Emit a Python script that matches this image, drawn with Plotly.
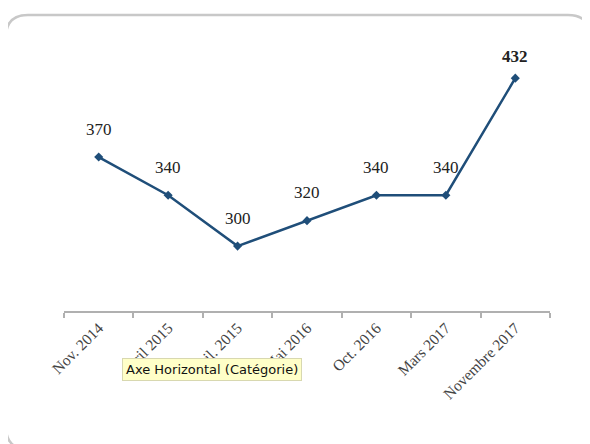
import plotly.graph_objects as go

categories = ["Nov. 2014", "Avril 2015", "Juil. 2015", "Mai 2016", "Oct. 2016", "Mars 2017", "Novembre 2017"]
values = [370, 340, 300, 320, 340, 340, 432]
value_labels = ["370", "340", "300", "320", "340", "340", "<b>432</b>"]

W, H = 590, 444
OFF = 8  # page body margin
ML, MR, MT, MB = 64 - OFF, 40 + OFF, 40 - OFF, 133 + OFF
PW, PH = W - ML - MR, H - MT - MB

def px_to_paper(px, py):
    # px, py are window pixel coordinates
    fx, fy = px - OFF, py - OFF
    return (fx - ML) / PW, (H - MB - fy) / PH

fig = go.Figure()
fig.add_trace(go.Scatter(
    x=categories, y=values, mode="lines+markers",
    line=dict(color="#1f4e79", width=2.5),
    marker=dict(symbol="diamond", size=7, color="#1f4e79"),
    hoverinfo="skip", showlegend=False,
))

for i, (c, v, t) in enumerate(zip(categories, values, value_labels)):
    fig.add_annotation(x=c, y=v, text=t, showarrow=False, yshift=28 if i < 6 else 22,
                       font=dict(family="Liberation Serif, Times New Roman, serif", size=17, color="#222"))

# rounded frame
x0, y0, x1, y1, r = 6, 15, 590, 449, 22
def P(x, y):
    px, py = px_to_paper(x, y)
    return f"{px:.5f},{py:.5f}"
path = (f"M {P(x0 + r, y0)} L {P(x1 - r, y0)} Q {P(x1, y0)} {P(x1, y0 + r)} "
        f"L {P(x1, y1 - r)} Q {P(x1, y1)} {P(x1 - r, y1)} L {P(x0 + r, y1)} "
        f"Q {P(x0, y1)} {P(x0, y1 - r)} L {P(x0, y0 + r)} Q {P(x0, y0)} {P(x0 + r, y0)} Z")
fig.add_shape(type="path", path=path, xref="paper", yref="paper",
              line=dict(color="#c8c8c8", width=2.5), layer="below")

# tooltip
tx, ty = px_to_paper(122, 369)
fig.add_annotation(x=tx, y=ty, xref="paper", yref="paper", xanchor="left", yanchor="middle",
                   text="Axe Horizontal (Catégorie)", showarrow=False,
                   font=dict(family="DejaVu Sans, sans-serif", size=13, color="#111"),
                   bgcolor="#ffffc8", bordercolor="#d8d8b0", borderwidth=1, borderpad=3)

fig.update_layout(
    width=W, height=H, margin=dict(l=ML, r=MR, t=MT, b=MB),
    paper_bgcolor="white", plot_bgcolor="white",
    xaxis=dict(type="category", range=[-0.5, 6.5], showgrid=False, zeroline=False,
               showline=True, linecolor="#b0b0b0", linewidth=2,
               ticks="outside", tickson="boundaries", ticklen=5, tickcolor="#b0b0b0", tickwidth=1.5,
               tickangle=-45, tickfont=dict(family="Liberation Serif, Times New Roman, serif", size=15.5, color="#444")),
    yaxis=dict(range=[249, 462], visible=False, showgrid=False, zeroline=False),
)

fig.write_html("out.html")
